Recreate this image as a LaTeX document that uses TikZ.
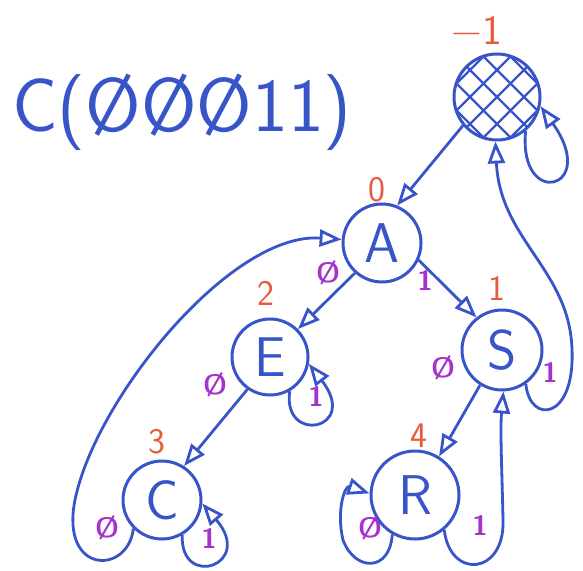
\documentclass[tikz,border=0pt]{standalone}
\usetikzlibrary{arrows.meta}
\definecolor{ink}{RGB}{55,85,200}
\definecolor{numred}{RGB}{232,90,60}
\definecolor{bitpurple}{RGB}{165,50,205}
\begin{document}
\begin{tikzpicture}[x=1pt,y=-1pt,
  state/.style={circle,draw=ink,line width=3pt,inner sep=0pt,text=ink,font=\sffamily\fontsize{56}{56}\selectfont},
  edge/.style={draw=ink,line width=2.8pt,-{Triangle[open,length=22pt,width=17pt]}},
  order/.style={text=numred,font=\sffamily\fontsize{36}{36}\selectfont,inner sep=0pt},
  bit/.style={text=bitpurple,font=\sffamily\bfseries\fontsize{28}{28}\selectfont,inner sep=0pt},
  hatch/.style={draw=ink,line width=2.4pt},
  title/.style={text=ink,font=\sffamily\fontsize{76}{76}\selectfont,inner sep=0pt}
]
\useasboundingbox (0,0) rectangle (583,570);

% title
\node[title,anchor=west] (T) at (12,112) {C(ØØØ11)};

% states
\node[state,minimum size=86pt] (H) at (497,97) {};
\node[state,minimum size=78pt] (A) at (382,243) {A};
\node[state,minimum size=76pt] (E) at (270,357) {E};
\node[state,minimum size=80pt] (S) at (502,350) {S};
\node[state,minimum size=78pt] (C) at (162,500) {C};
\node[state,minimum size=88pt] (R) at (415,495) {R};

% hatching of the root
\begin{scope}
  \clip (497,97) circle (42pt);
  \foreach \i in {-3,...,3} {
    \draw[hatch] (497+\i*27-60,37) -- (497+\i*27+60,157);
    \draw[hatch] (497+\i*27-60,157) -- (497+\i*27+60,37);
  }
\end{scope}

% order numbers
\node[order,font=\sffamily\fontsize{42}{42}\selectfont] (nH) at (477,30) {−1};
\node[order] (nA) at (377,190) {0};
\node[order] (nE) at (266,293) {2};
\node[order] (nS) at (497,288) {1};
\node[order] (nC) at (157,442) {3};
\node[order] (nR) at (419,436) {4};

% edges
\draw[edge] (H.220) -- (A.68);
\draw[edge] (A.228) -- (E.45);
\draw[edge] (A.-25) -- (S.128);
\draw[edge] (E.235) -- (C.57);
\draw[edge] (S.238) -- (R.58);
\draw[edge] (E.-60) .. controls (282,445) and (360,430) .. (E.-10);
\draw[edge] (C.-60) .. controls (180,590) and (255,565) .. (C.-5);
\draw[edge] (H.-50) .. controls (518,210) and (600,190) .. (H.-12);
\draw[edge] (R.-120) .. controls (390,572) and (355,572) .. (343,540) .. controls (336,510) and (345,485) .. (R.178);
\draw[edge] (C.225) .. controls (128,575) and (60,575) .. (75,500) .. controls (95,400) and (230,232) .. (A.175);
\draw[edge] (S.-55) .. controls (530,425) and (575,420) .. (572,350) .. controls (570,270) and (500,240) .. (H.-92);
\draw[edge] (R.-50) .. controls (450,580) and (505,575) .. (503,520) .. controls (502,470) and (500,430) .. (S.-88);

% bit labels
\node[bit] (bAE) at (328,273) {Ø};
\node[bit] (bAS) at (425,280) {1};
\node[bit] (bEE) at (316,396) {1};
\node[bit] (bEC) at (215,385) {Ø};
\node[bit] (bSR) at (443,368) {Ø};
\node[bit] (bSH) at (550,372) {1};
\node[bit] (bCA) at (107,528) {Ø};
\node[bit] (bCC) at (209,538) {1};
\node[bit] (bRR) at (370,528) {Ø};
\node[bit] (bRS) at (480,525) {1};
\end{tikzpicture}
\end{document}
